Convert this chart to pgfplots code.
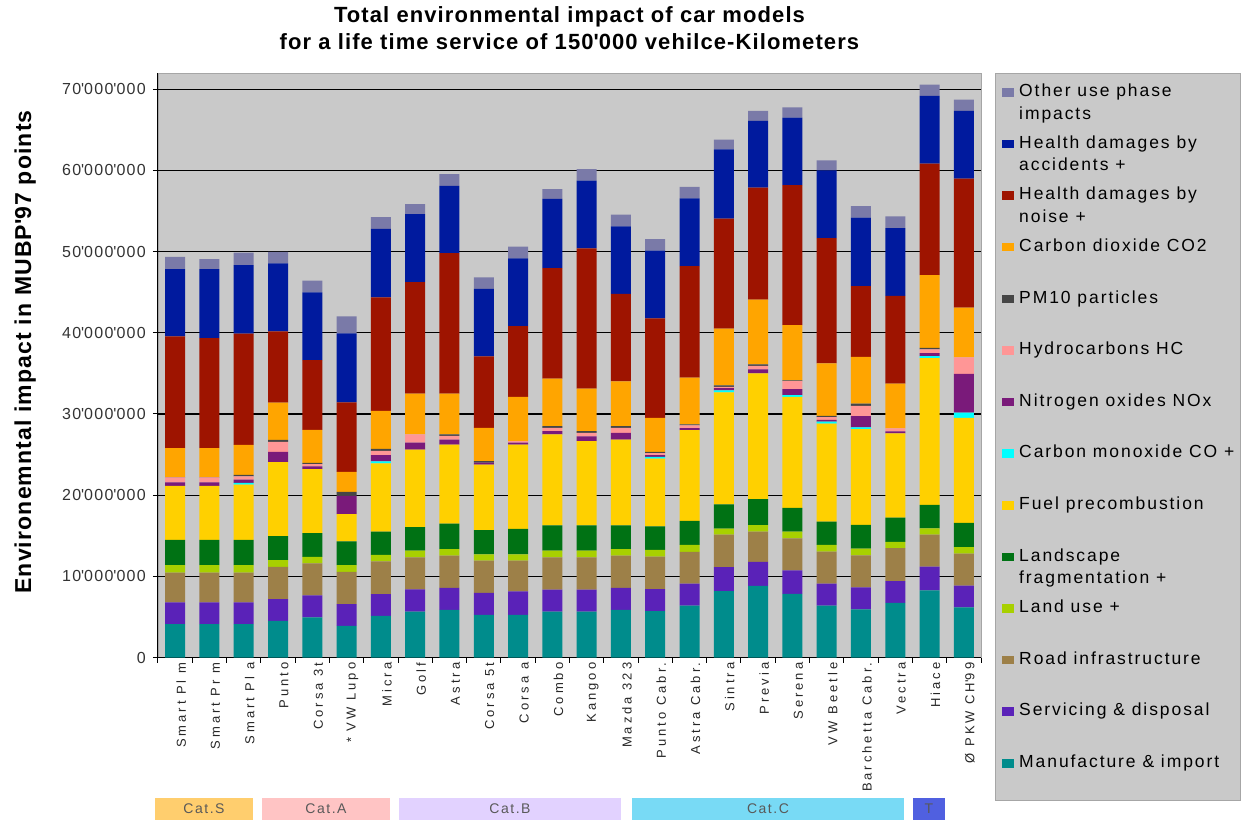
\documentclass[border=0pt]{standalone}
\usepackage{fontspec}
\setmainfont{Liberation Sans}
\newfontfamily\fA[LetterSpace=5]{Liberation Sans}
\newfontfamily\fB[LetterSpace=8]{Liberation Sans}
\newfontfamily\fC[LetterSpace=23]{Liberation Sans}
\newfontfamily\fD[LetterSpace=11]{Liberation Sans}
\usepackage{pgfplots}
\usepackage{pgfplotstable}
\pgfplotsset{compat=1.18}
\newcommand\q{\textquotesingle}

\definecolor{plotbg}{RGB}{201,201,201}
\definecolor{cother}{RGB}{122,122,168}
\definecolor{cacc}{RGB}{0,26,158}
\definecolor{cnoise}{RGB}{158,20,0}
\definecolor{cco2}{RGB}{255,165,0}
\definecolor{cpm}{RGB}{70,70,70}
\definecolor{chc}{RGB}{255,150,150}
\definecolor{cnox}{RGB}{122,26,122}
\definecolor{cco}{RGB}{0,255,255}
\definecolor{cfuel}{RGB}{255,208,0}
\definecolor{cscape}{RGB}{0,114,20}
\definecolor{cland}{RGB}{168,208,0}
\definecolor{croad}{RGB}{157,128,72}
\definecolor{cserv}{RGB}{90,34,184}
\definecolor{cmanu}{RGB}{0,140,140}

% values in millions of UBP'97 points
\pgfplotstableread{
idx manu serv road land scape fuel co nox hc pm co2 noise acc other
0  4.10 2.68 3.69 0.91 3.12 6.65 0.00 0.41 0.62 0.05 3.57 13.75 8.29 1.52
1  4.10 2.68 3.69 0.91 3.12 6.65 0.00 0.41 0.62 0.05 3.57 13.54 8.50 1.24
2  4.10 2.68 3.69 0.91 3.12 6.80 0.20 0.40 0.40 0.20 3.70 13.70 8.44 1.52
3  4.52 2.67 3.98 0.83 2.95 9.12 0.00 1.27 1.23 0.23 4.60 8.76 8.38 1.44
4  4.93 2.71 3.94 0.82 2.92 7.88 0.00 0.33 0.29 0.16 4.07 8.58 8.34 1.44
5  3.90 2.67 3.98 0.83 2.91 3.37 0.00 2.26 0.00 0.49 2.46 8.55 8.50 2.09
6  5.13 2.67 4.03 0.82 2.87 8.38 0.25 0.78 0.53 0.24 4.69 13.96 8.45 1.45
7  5.66 2.74 3.94 0.82 2.91 9.54 0.00 0.87 1.02 0.00 5.00 13.73 8.40 1.23
8  5.86 2.71 3.97 0.82 3.12 9.75 0.00 0.61 0.46 0.20 5.00 17.30 8.31 1.44
9  5.25 2.70 3.98 0.77 3.00 8.07 0.00 0.23 0.00 0.20 4.10 8.79 8.32 1.43
10 5.25 2.91 3.77 0.77 3.16 10.37 0.00 0.25 0.16 0.00 5.46 8.72 8.36 1.42
11 5.66 2.70 3.98 0.82 3.11 11.23 0.00 0.40 0.38 0.22 5.84 13.61 8.53 1.22
12 5.66 2.70 3.98 0.82 3.11 10.37 0.00 0.61 0.41 0.24 5.21 17.30 8.32 1.43
13 5.86 2.71 3.97 0.82 2.91 10.57 0.00 0.82 0.62 0.22 5.50 10.80 8.30 1.45
14 5.72 2.71 3.99 0.84 2.88 8.35 0.21 0.22 0.25 0.17 4.19 12.25 8.35 1.40
15 6.40 2.71 3.89 0.86 2.96 11.18 0.00 0.26 0.34 0.13 5.76 13.73 8.35 1.40
16 8.18 2.96 3.99 0.76 2.97 13.81 0.25 0.26 0.17 0.17 6.98 13.57 8.53 1.20
17 8.81 2.97 3.72 0.80 3.20 15.50 0.00 0.50 0.43 0.17 7.97 13.81 8.22 1.24
18 7.84 2.88 3.94 0.84 2.93 13.69 0.21 0.72 0.98 0.12 6.78 17.25 8.32 1.26
19 6.40 2.70 3.94 0.83 2.88 12.07 0.23 0.23 0.32 0.15 6.49 15.41 8.35 1.25
20 5.94 2.69 3.95 0.83 2.92 11.79 0.23 1.39 1.26 0.28 5.75 8.72 8.45 1.40
21 6.73 2.69 4.04 0.79 2.97 10.39 0.00 0.23 0.37 0.00 5.53 10.81 8.35 1.44
22 8.26 2.92 3.95 0.79 2.87 18.10 0.23 0.37 0.47 0.18 8.96 13.74 8.35 1.39
23 6.17 2.69 3.95 0.79 2.97 12.94 0.65 4.78 2.04 0.00 6.13 15.87 8.35 1.39
}\data

\begin{document}
\begin{tikzpicture}
\path[use as bounding box] (-158pt,-162.5pt) rectangle (1089pt,657.5pt);
\begin{axis}[
  at={(0pt,0pt)}, anchor=south west,
  scale only axis, width=823pt, height=584.5pt,
  xmin=-0.5, xmax=23.5, ymin=0, ymax=72,
  ybar stacked, bar width=20pt,
  axis background/.style={fill=plotbg, draw=gray!70!white},
  axis x line*=bottom, axis y line*=left,
  axis line style={black, line width=1pt, -},
  tick align=outside,
  major tick length=5pt, minor tick length=5pt,
  tick style={black, line width=1pt},
  ytick={0,10,...,70},
  yticklabels={0,10\q000\q000,20\q000\q000,30\q000\q000,40\q000\q000,50\q000\q000,60\q000\q000,70\q000\q000},
  yticklabel style={font=\fB\fontsize{16}{16}\selectfont, text=black!80, anchor=east, inner sep=0pt, xshift=-7pt},
  ymajorgrids, grid style={black, line width=1.1pt},
  xtick={0,...,23},
  xticklabels={Smart Pl m,Smart Pr m,Smart Pl a,Punto,Corsa 3t,* VW Lupo,Micra,Golf,Astra,Corsa 5t,Corsa a,Combo,Kangoo,Mazda 323,Punto Cabr.,Astra Cabr.,Sintra,Previa,Serena,VW Beetle,Barchetta Cabr.,Vectra,Hiace,Ø PKW CH\q99},
  minor xtick={-0.5,0.5,...,23.5},
  every major x tick/.append style={draw opacity=0},
  xticklabel style={font=\fC\fontsize{13}{13}\selectfont, text=black!85, rotate=90, anchor=east, inner sep=0pt, yshift=-6pt},
  ylabel={Environemntal impact in MUBP\q97 points},
  ylabel style={font=\fA\bfseries\fontsize{23}{23}\selectfont, at={(axis description cs:-0.1543,0.5227)}, anchor=base},
  title={Total environmental impact of car models\\for a life time service of 150\q000 vehilce-Kilometers},
  title style={font=\fA\bfseries\fontsize{22}{26.7}\selectfont, align=center, at={(axis description cs:0.5,1)}, anchor=south, inner sep=0pt, yshift=17pt},
]
\addplot[fill=cmanu, draw=none] table[x=idx,y=manu]{\data};
\addplot[fill=cserv, draw=none] table[x=idx,y=serv]{\data};
\addplot[fill=croad, draw=none] table[x=idx,y=road]{\data};
\addplot[fill=cland, draw=none] table[x=idx,y=land]{\data};
\addplot[fill=cscape, draw=none] table[x=idx,y=scape]{\data};
\addplot[fill=cfuel, draw=none] table[x=idx,y=fuel]{\data};
\addplot[fill=cco, draw=none] table[x=idx,y=co]{\data};
\addplot[fill=cnox, draw=none] table[x=idx,y=nox]{\data};
\addplot[fill=chc, draw=none] table[x=idx,y=hc]{\data};
\addplot[fill=cpm, draw=none] table[x=idx,y=pm]{\data};
\addplot[fill=cco2, draw=none] table[x=idx,y=co2]{\data};
\addplot[fill=cnoise, draw=none] table[x=idx,y=noise]{\data};
\addplot[fill=cacc, draw=none] table[x=idx,y=acc]{\data};
\addplot[fill=cother, draw=none] table[x=idx,y=other]{\data};
\end{axis}
% category bands
\begin{scope}[font=\fD\fontsize{14}{14}\selectfont, text=black!65]
\fill[fill={rgb,255:red,255;green,206;blue,110}] (-3pt,-140.5pt) rectangle (95pt,-162.5pt);
\node at (46pt,-151.5pt) {Cat.S};
\fill[fill={rgb,255:red,255;green,196;blue,196}] (104pt,-140.5pt) rectangle (232pt,-162.5pt);
\node at (168pt,-151.5pt) {Cat.A};
\fill[fill={rgb,255:red,226;green,210;blue,255}] (241pt,-140.5pt) rectangle (463pt,-162.5pt);
\node at (352pt,-151.5pt) {Cat.B};
\fill[fill={rgb,255:red,120;green,218;blue,245}] (474pt,-140.5pt) rectangle (746pt,-162.5pt);
\node at (610pt,-151.5pt) {Cat.C};
\fill[fill={rgb,255:red,80;green,96;blue,224}] (755pt,-140.5pt) rectangle (787pt,-162.5pt);
\node at (771pt,-151.5pt) {T};
\end{scope}
% legend
\fill[plotbg, draw=gray!70!white] (837pt,-142.5pt) rectangle (1082pt,584.5pt);
\begin{scope}[every node/.style={anchor=base west, inner sep=0pt, font=\fD\fontsize{17.5}{17.5}\selectfont}]
\foreach \k/\c/\a/\b in {0/cother/{Other use phase}/{impacts},1/cacc/{Health damages by}/{accidents +},2/cnoise/{Health damages by}/{noise +},3/cco2/{Carbon dioxide CO2}/{},4/cpm/{PM10 particles}/{},5/chc/{Hydrocarbons HC}/{},6/cnox/{Nitrogen oxides NOx}/{},7/cco/{Carbon monoxide CO +}/{},8/cfuel/{Fuel precombustion}/{},9/cscape/{Landscape}/{fragmentation +},10/cland/{Land use +}/{},11/croad/{Road infrastructure}/{},12/cserv/{Servicing \& disposal}/{},13/cmanu/{Manufacture \& import}/{}}{
  \fill[\c] (844pt,{560.8pt-51.6pt*\k}) rectangle (856pt,{569.3pt-51.6pt*\k});
  \node at (861pt,{560.8pt-51.6pt*\k}) {\a};
  \node at (861pt,{538.2pt-51.6pt*\k}) {\b};
}
\end{scope}
\end{tikzpicture}
\end{document}
